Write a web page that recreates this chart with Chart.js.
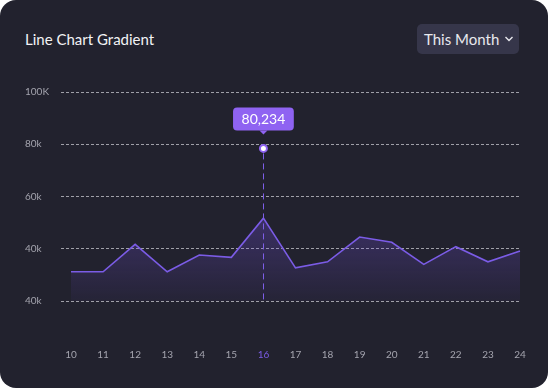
<!DOCTYPE html>
<html>
<head>
<meta charset="utf-8">
<script src="https://cdn.jsdelivr.net/npm/chart.js@4"></script>
<style>
  html, body { margin: 0; padding: 0; background: #ffffff; }
  #card { position: relative; width: 548px; height: 388px; background: #22222e; border-radius: 16px; overflow: hidden; font-family: Lato, "Noto Sans", sans-serif; }
  #title { position: absolute; left: 25px; top: 29px; font-size: 15px; color: #f2f2f5; line-height: 20px; }
  #dropdown { position: absolute; left: 417px; top: 24px; width: 102px; height: 30px; background: #36364a; border-radius: 5px; color: #e8e8ee; font-size: 15px; line-height: 30px; box-sizing: border-box; padding-left: 7px; }
  #dropdown svg { position: absolute; left: 87px; top: 12px; }
  canvas { position: absolute; left: 0; top: 0; }
</style>
</head>
<body>
<div id="card">
  <div id="title">Line Chart Gradient</div>
  <div id="dropdown">This Month<svg width="10" height="6" viewBox="0 0 10 6"><polyline points="1.5,1 5,4.5 8.5,1" fill="none" stroke="#e8e8ee" stroke-width="1.4"/></svg></div>
  <canvas id="c" width="548" height="388"></canvas>
</div>
<script>
const categories = ["10","11","12","13","14","15","16","17","18","19","20","21","22","23","24"];
const seriesValues = [31.2, 31.2, 41.7, 31.2, 37.6, 36.7, 51.7, 32.7, 35.0, 44.5, 42.5, 34.0, 40.8, 35.0, 39.1];
const markerValues = [null, null, null, null, null, null, 78.4, null, null, null, null, null, null, null, null];
const markerLabel = "80,234";
const highlightIndex = 6;
const yTickValues = [20, 40, 60, 80, 100];
const yTickLabels = ["40k", "40k", "60k", "80k", "100K"];

const purple = "#7b5ce6";

const highlightPlugin = {
  id: "highlight",
  afterDatasetsDraw(chart) {
    const meta = chart.getDatasetMeta(1);
    const pt = meta.data[highlightIndex];
    if (!pt) return;
    const ctx = chart.ctx;
    const area = chart.chartArea;
    const x = pt.x, y = pt.y;
    const lx = Math.round(x) + 0.5;
    ctx.save();
    ctx.strokeStyle = "#7d5ee8";
    ctx.lineWidth = 1;
    ctx.setLineDash([6, 4]);
    ctx.beginPath();
    ctx.moveTo(lx, y + 5);
    ctx.lineTo(lx, area.bottom);
    ctx.stroke();
    ctx.setLineDash([]);
    ctx.font = "14px Lato, 'Noto Sans', sans-serif";
    const tw = ctx.measureText(markerLabel).width;
    const w = tw + 17, h = 23;
    const bx = x - w / 2, by = y - 41;
    ctx.fillStyle = "#8f63f2";
    ctx.beginPath();
    ctx.roundRect(bx, by, w, h, 4);
    ctx.fill();
    ctx.beginPath();
    ctx.moveTo(x - 4, by + h);
    ctx.lineTo(x + 4, by + h);
    ctx.lineTo(x, by + h + 4);
    ctx.closePath();
    ctx.fill();
    ctx.fillStyle = "#ffffff";
    ctx.textAlign = "center";
    ctx.textBaseline = "middle";
    ctx.fillText(markerLabel, x, by + h / 2 + 1);
    ctx.restore();
  }
};

new Chart(document.getElementById("c"), {
  type: "line",
  data: {
    labels: categories,
    datasets: [
      {
        data: seriesValues,
        borderColor: purple,
        borderWidth: 1.6,
        tension: 0,
        pointRadius: 0,
        fill: "start",
        backgroundColor: (context) => {
          const chart = context.chart;
          const a = chart.chartArea;
          if (!a) return "rgba(123,92,230,0.2)";
          const g = chart.ctx.createLinearGradient(0, a.top + 100, 0, a.bottom);
          g.addColorStop(0, "rgba(115,80,220,0.40)");
          g.addColorStop(1, "rgba(115,80,220,0.05)");
          return g;
        }
      },
      {
        data: markerValues,
        showLine: false,
        pointRadius: 3.5,
        pointBackgroundColor: "#ffffff",
        pointBorderColor: "#8f63f2",
        pointBorderWidth: 2,
        fill: false
      }
    ]
  },
  options: {
    responsive: false,
    animation: false,
    events: [],
    layout: { padding: { left: 25, right: 28, top: 92, bottom: 27 } },
    plugins: { legend: { display: false }, tooltip: { enabled: false } },
    scales: {
      x: {
        offset: false,
        grid: { display: true, drawOnChartArea: false, color: "rgba(0,0,0,0)", tickLength: 46 },
        border: { display: false },
        afterFit: (s) => { s.height = 60; },
        ticks: {
          padding: 2,
          autoSkip: false,
          maxRotation: 0,
          font: { family: "Lato", size: 10 },
          color: (c) => c.index === highlightIndex ? purple : "#a4a4ae"
        }
      },
      y: {
        min: 20,
        max: 100,
        afterFit: (s) => { s.width = 46; },
        afterBuildTicks: (s) => { s.ticks = yTickValues.map(v => ({ value: v })); },
        grid: { color: "#a0a0a8", lineWidth: 1, tickLength: 10, tickBorderDash: [3, 2] },
        border: { display: false, dash: [3, 2] },
        ticks: {
          crossAlign: "far",
          padding: 0,
          font: { family: "Lato", size: 10 },
          color: "#a4a4ae",
          callback: (v) => yTickLabels[yTickValues.indexOf(v)]
        }
      }
    }
  },
  plugins: [highlightPlugin]
});
</script>
</body>
</html>
